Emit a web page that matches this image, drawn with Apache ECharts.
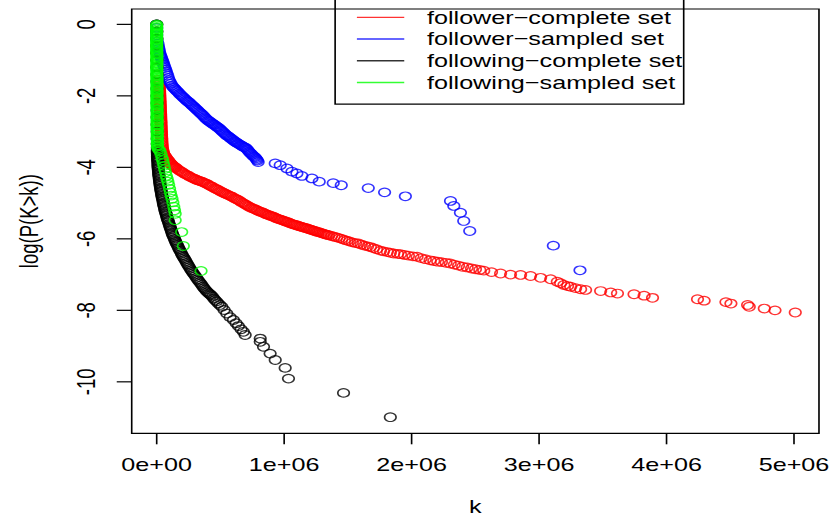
<!DOCTYPE html>
<html>
<head>
<meta charset="utf-8">
<script src="https://cdn.jsdelivr.net/npm/echarts@6/dist/echarts.min.js"></script>
<style>
  html, body { margin: 0; padding: 0; background: #fff; }
  #wrap { width: 830px; height: 520px; overflow: hidden; position: relative; }
  /* the plot is laid out on a narrower canvas and widened horizontally */
  #chart { width: 610px; height: 520px; transform: scale(1.36066, 1); transform-origin: 0 0; }
</style>
</head>
<body>
<div id="wrap"><div id="chart"></div></div>
<script>
// Empirical CCDF of degree k: pairs [k, log(P(K>k))]
const followerComplete = [
  [0,0],[0,-0.2],[1000,-0.4],[2000,-0.6],[3000,-0.8],[4000,-1.0],[6000,-1.2],[9000,-1.4],[13000,-1.55],
  [15000,-1.6],[17000,-1.64],[19000,-1.68],[20000,-1.72],[21000,-1.76],[22000,-1.8],[22000,-1.84],[23000,-1.88],[23000,-1.92],[24000,-1.96],
  [24000,-2.0],[25000,-2.04],[25000,-2.08],[26000,-2.12],[26000,-2.16],[27000,-2.2],[27000,-2.24],[28000,-2.28],[28000,-2.32],[29000,-2.36],
  [29000,-2.41],[30000,-2.45],[30000,-2.49],[31000,-2.53],[31000,-2.57],[32000,-2.61],[32000,-2.66],[33000,-2.7],[33000,-2.74],[34000,-2.78],
  [34000,-2.83],[35000,-2.87],[35000,-2.91],[36000,-2.96],[36000,-3.0],[37000,-3.04],[38000,-3.09],[38000,-3.13],[39000,-3.18],[40000,-3.22],
  [40000,-3.27],[41000,-3.31],[42000,-3.36],[43000,-3.4],[44000,-3.45],
  [46000,-3.49],[48000,-3.53],[50000,-3.56],[53000,-3.6],[56000,-3.63],[60000,-3.66],[64000,-3.68],[68000,-3.7],[72000,-3.72],[76000,-3.74],
  [81000,-3.77],[86000,-3.79],[91000,-3.81],[96000,-3.83],[101000,-3.86],[106000,-3.88],[111000,-3.9],[117000,-3.92],[123000,-3.94],[129000,-3.96],
  [135000,-3.98],[141000,-3.99],[147000,-4.01],[153000,-4.02],[164000,-4.05],[175000,-4.08],[187000,-4.11],[198000,-4.13],[210000,-4.16],[223000,-4.19],
  [235000,-4.21],[247000,-4.23],[259000,-4.26],[271000,-4.28],[283000,-4.30],[295000,-4.32],[307000,-4.34],[319000,-4.36],[331000,-4.37],[343000,-4.39],
  [355000,-4.40],[367000,-4.42],[379000,-4.44],[391000,-4.46],[403000,-4.48],[415000,-4.51],[427000,-4.53],[439000,-4.55],[451000,-4.58],[463000,-4.60],
  [475000,-4.62],[487000,-4.64],[499000,-4.67],[511000,-4.69],[523000,-4.71],[535000,-4.73],[547000,-4.75],[559000,-4.77],[571000,-4.79],[583000,-4.81],
  [595000,-4.83],[607000,-4.86],[619000,-4.88],[631000,-4.90],[643000,-4.92],[655000,-4.95],[667000,-4.98],[679000,-5.00],[691000,-5.03],[703000,-5.05],
  [715000,-5.08],[727000,-5.10],[739000,-5.13],[751000,-5.14],[763000,-5.16],[775000,-5.18],[787000,-5.20],[799000,-5.22],[811000,-5.24],[823000,-5.25],
  [835000,-5.27],[847000,-5.29],[859000,-5.31],[871000,-5.33],[883000,-5.34],[895000,-5.36],[907000,-5.37],[919000,-5.39],[931000,-5.41],[943000,-5.43],
  [955000,-5.44],[967000,-5.46],[979000,-5.47],[991000,-5.49],[1003000,-5.50],[1015000,-5.52],[1027000,-5.53],[1039000,-5.55],[1051000,-5.57],[1063000,-5.58],
  [1075000,-5.60],[1087000,-5.61],[1099000,-5.62],[1111000,-5.64],[1123000,-5.65],[1135000,-5.66],[1147000,-5.68],[1159000,-5.69],[1171000,-5.70],[1183000,-5.71],
  [1195000,-5.73],[1207000,-5.74],[1219000,-5.76],[1231000,-5.77],[1243000,-5.78],[1255000,-5.80],[1267000,-5.81],[1279000,-5.82],[1291000,-5.84],[1303000,-5.85],
  [1315000,-5.86],[1327000,-5.88],[1339000,-5.89],[1351000,-5.90],[1372000,-5.92],[1392000,-5.94],[1412000,-5.96],[1432000,-5.98],[1452000,-6.00],[1472000,-6.03],
  [1492000,-6.05],[1512000,-6.07],[1535000,-6.10],[1560000,-6.12],[1583000,-6.13],[1605000,-6.16],[1630000,-6.19],[1655000,-6.21],[1677000,-6.23],[1700000,-6.26],
  [1725000,-6.29],[1756000,-6.33],[1780000,-6.35],[1810000,-6.37],[1834000,-6.39],[1860000,-6.41],[1890000,-6.42],[1913000,-6.43],[1944000,-6.45],[1975000,-6.47],
  [2010000,-6.49],[2043000,-6.50],[2075000,-6.54],[2108000,-6.57],[2145000,-6.60],[2174000,-6.62],[2205000,-6.64],[2234000,-6.65],[2270000,-6.67],[2303000,-6.69],
  [2335000,-6.72],[2368000,-6.75],[2400000,-6.78],[2436000,-6.80],[2470000,-6.83],[2501000,-6.85],[2535000,-6.87],[2566000,-6.89],[2627000,-6.93],[2698000,-6.97],
  [2776000,-7.00],[2855000,-7.01],[2933000,-7.04],[3012000,-7.09],[3091000,-7.13],[3143000,-7.20],[3169000,-7.24],[3195000,-7.29],[3224000,-7.32],[3248000,-7.34],
  [3287000,-7.38],[3326000,-7.41],[3365000,-7.43],[3483000,-7.46],[3562000,-7.50],[3615000,-7.53],[3745000,-7.55],[3824000,-7.59],[3890000,-7.65],[4243000,-7.69],
  [4295000,-7.73],[4466000,-7.77],[4505000,-7.81],[4636000,-7.85],[4649000,-7.90],[4767000,-7.95],[4851000,-8.00],[5010000,-8.06]
];

const followerSampled = [
  [0,0],[0,-0.1],[0,-0.2],[0,-0.3],[1000,-0.4],[4000,-0.48],
  [10000,-0.54],[14000,-0.62],[17000,-0.68],[20000,-0.74],[23000,-0.79],[27000,-0.84],[31000,-0.88],[35000,-0.92],[39000,-0.96],[43000,-1.0],
  [47000,-1.04],[51000,-1.08],[55000,-1.12],[60000,-1.17],[65000,-1.22],[70000,-1.27],[75000,-1.32],[80000,-1.37],[86000,-1.43],[92000,-1.5],
  [98000,-1.56],[105000,-1.61],[112000,-1.66],[120000,-1.71],[128000,-1.75],[136000,-1.78],[144000,-1.81],[152000,-1.84],[160000,-1.87],[169000,-1.9],
  [178000,-1.94],[187000,-1.97],[196000,-2.0],[205000,-2.03],[214000,-2.06],[223000,-2.09],[232000,-2.12],[241000,-2.15],[250000,-2.17],[259000,-2.2],
  [268000,-2.23],[277000,-2.26],[286000,-2.29],[295000,-2.32],[304000,-2.35],[313000,-2.38],[322000,-2.41],[331000,-2.44],[340000,-2.47],[349000,-2.50],
  [358000,-2.53],[367000,-2.56],[376000,-2.60],[385000,-2.63],[394000,-2.66],[403000,-2.69],[412000,-2.71],[421000,-2.73],[430000,-2.76],[439000,-2.78],
  [448000,-2.80],[457000,-2.82],[466000,-2.85],[475000,-2.87],[484000,-2.89],[493000,-2.92],[502000,-2.95],[511000,-2.98],[520000,-3.01],[529000,-3.04],
  [538000,-3.07],[547000,-3.10],[556000,-3.12],[565000,-3.14],[574000,-3.17],[583000,-3.19],[592000,-3.22],[601000,-3.24],[610000,-3.27],[619000,-3.29],
  [628000,-3.31],[637000,-3.33],[646000,-3.35],[655000,-3.37],[664000,-3.39],[673000,-3.41],[682000,-3.43],[691000,-3.44],[700000,-3.46],[708000,-3.49],
  [716000,-3.52],[724000,-3.56],[732000,-3.59],[741000,-3.62],[749000,-3.65],[757000,-3.68],[765000,-3.70],[772000,-3.72],[778000,-3.75],[784000,-3.78],
  [790000,-3.81],[796000,-3.85],
  [930000,-3.89],[969000,-3.94],[1022000,-4.03],[1061000,-4.12],[1100000,-4.17],[1139000,-4.24],[1218000,-4.31],[1275000,-4.40],[1385000,-4.44],[1448000,-4.50],
  [1660000,-4.58],[1788000,-4.70],[1951000,-4.81],[2305000,-4.94],[2331000,-5.08],[2383000,-5.27],[2409000,-5.50],[2456000,-5.78],[3112000,-6.19],[3321000,-6.88]
];

const followingComplete = [
  [0,0],[0,-0.2],[0,-0.4],[1000,-0.6],[1000,-0.8],[1000,-1.0],[1000,-1.2],[2000,-1.4],[2000,-1.6],[2000,-1.8],
  [2000,-2.0],[3000,-2.2],[3000,-2.4],[3000,-2.6],[3000,-2.8],[4000,-3.0],[4000,-3.2],[4000,-3.35],[5000,-3.45],
  [5000,-3.52],[5000,-3.56],[5500,-3.6],[6000,-3.64],[6000,-3.69],[6500,-3.73],[7000,-3.77],[8000,-3.81],[9000,-3.85],[9500,-3.9],
  [10000,-3.94],[11000,-3.98],[12000,-4.02],[13000,-4.06],[14000,-4.1],[15000,-4.15],[16000,-4.19],[17500,-4.23],[19000,-4.27],[20500,-4.32],
  [22000,-4.36],[23500,-4.4],[25000,-4.44],[26500,-4.48],[28000,-4.52],[30000,-4.57],[32000,-4.61],[34000,-4.65],[36000,-4.69],[38000,-4.74],
  [40000,-4.78],[42500,-4.82],[45000,-4.86],[47500,-4.9],[50000,-4.94],[52000,-4.99],[54000,-5.03],[57000,-5.07],[60000,-5.11],[62500,-5.16],
  [65000,-5.2],[68500,-5.24],[72000,-5.28],[75000,-5.32],[78000,-5.36],[81500,-5.41],[85000,-5.45],[89000,-5.49],[93000,-5.53],[97000,-5.58],
  [101000,-5.62],[104500,-5.66],[108000,-5.7],[112000,-5.74],[116000,-5.78],[120000,-5.83],[124000,-5.87],[129000,-5.91],[134000,-5.95],[139000,-6.0],
  [144000,-6.04],[149000,-6.08],[154000,-6.12],[159500,-6.16],[165000,-6.2],[171000,-6.25],[177000,-6.29],[183000,-6.33],[189000,-6.37],[195000,-6.42],
  [201000,-6.46],[208000,-6.5],[215000,-6.54],[221500,-6.58],[228000,-6.62],[235000,-6.67],[242000,-6.71],[249000,-6.75],[256000,-6.79],[263500,-6.84],
  [271000,-6.88],[279000,-6.92],[287000,-6.96],[295000,-7.0],[303000,-7.04],[311500,-7.09],[320000,-7.13],[328500,-7.17],[337000,-7.21],[345500,-7.25],
  [354000,-7.29],[363000,-7.34],[372000,-7.38],[381000,-7.42],[390000,-7.46],[399000,-7.49],[408000,-7.52],[418000,-7.55],
  [427000,-7.58],[438000,-7.62],[448000,-7.67],[458000,-7.71],[470000,-7.75],[482000,-7.80],[496000,-7.85],[511000,-7.90],[529000,-7.99],[550000,-8.09],
  [576000,-8.19],[602000,-8.27],[623000,-8.36],[641000,-8.44],[662000,-8.53],[680000,-8.60],[694000,-8.69],[812000,-8.79],[812000,-8.88],[838000,-9.02],
  [890000,-9.21],[930000,-9.39],[1008000,-9.61],[1034000,-9.91],[1466000,-10.31],[1833000,-10.99]
];

const followingSampled = [
  [0,0],[0,-0.03],[0,-0.07],[0,-0.1],[0,-0.14],[0,-0.18],[0,-0.21],[0,-0.25],[0,-0.29],[0,-0.33],
  [0,-0.37],[0,-0.41],[0,-0.44],[0,-0.48],[0,-0.52],[0,-0.56],[0,-0.6],[0,-0.64],[0,-0.68],[0,-0.72],
  [0,-0.76],[1000,-0.8],[1000,-0.84],[1000,-0.88],[1000,-0.92],[1000,-0.96],[1000,-1.0],[1000,-1.04],[1000,-1.08],[1000,-1.12],
  [1000,-1.16],[1000,-1.2],[1000,-1.24],[1000,-1.28],[1000,-1.32],[1000,-1.37],[1000,-1.41],[1000,-1.45],[2000,-1.49],[2000,-1.53],
  [2000,-1.57],[2000,-1.61],[2000,-1.65],[2000,-1.69],[2000,-1.74],[2000,-1.78],[2000,-1.82],[2000,-1.86],[2000,-1.9],[2000,-1.94],
  [2000,-1.99],[2000,-2.03],[2000,-2.07],[2000,-2.11],[2000,-2.15],[2000,-2.2],[2000,-2.24],[2000,-2.28],[2000,-2.32],[3000,-2.37],
  [3000,-2.41],[3000,-2.45],[3000,-2.49],[3000,-2.54],[3000,-2.58],[3000,-2.62],[3000,-2.67],[3000,-2.71],[3000,-2.75],[3000,-2.8],
  [3000,-2.84],[3000,-2.89],[3000,-2.93],[4000,-2.97],[4000,-3.02],[4000,-3.06],[4000,-3.11],[4000,-3.15],[4000,-3.2],[5000,-3.24],
  [5000,-3.29],[5000,-3.33],[6000,-3.38],[6000,-3.42],
  [10000,-3.47],[18000,-3.5],[26000,-3.55],[34000,-3.63],[42000,-3.74],[47000,-3.8],[52000,-3.88],[57000,-3.96],[63000,-4.05],[69000,-4.14],
  [76000,-4.24],[82000,-4.32],[88000,-4.4],[94000,-4.49],[101000,-4.6],[107000,-4.7],[113000,-4.79],[120000,-4.88],[127000,-4.98],[134000,-5.1],
  [140000,-5.2],[145000,-5.3],[145000,-5.48],[196000,-5.81],[209000,-6.20],[348000,-6.90]
];

const seriesNames = ['follower\u2212complete set', 'follower\u2212sampled set', 'following\u2212complete set', 'following\u2212sampled set'];
const seriesColors = ['#ff0000', '#0000ff', '#000000', '#00ff00'];

// Axis annotation
const xTickValues = [0, 1000000, 2000000, 3000000, 4000000, 5000000];
const xTickLabels = ['0e+00', '1e+06', '2e+06', '3e+06', '4e+06', '5e+06'];
const yTickValues = [0, -2, -4, -6, -8, -10];
const yTickLabels = ['0', '-2', '-4', '-6', '-8', '-10'];
const xTickStep = 1000000;
const yTickStep = 2;

const FONT = "'Liberation Sans', Arial, Helvetica, sans-serif";
const FS = 18.5;
const TICK = 11;

// Plot region (pre-stretch pixels) and its data extent
const W = 610, H = 520;
const box = { left: 96.8, right: 8.1, top: 9, bottom: 86.7 };
const xMin = -196000, xMax = 5196000;
const yMin = -11.44, yMax = 0.43;

// Label regions: edges sit on the first/last tick so the label axes span exactly 0..5e6 and -10..0
const plotW = W - box.left - box.right, plotH = H - box.top - box.bottom;
const xPx = v => box.left + (v - xMin) / (xMax - xMin) * plotW;
const yPx = v => box.top + (yMax - v) / (yMax - yMin) * plotH;
const xLabelGrid = { left: xPx(0), right: W - xPx(5000000), top: box.top, bottom: box.bottom, show: false, containLabel: false, outerBoundsMode: 'none' };
const yLabelGrid = { left: box.left, right: box.right, top: yPx(0), bottom: H - yPx(-10), show: false, containLabel: false, outerBoundsMode: 'none' };

const chart = echarts.init(document.getElementById('chart'), null, { renderer: 'svg' });

const seriesData = [followerComplete, followerSampled, followingComplete, followingSampled];
const tickStyle = { stroke: '#000', lineWidth: 1.2 };
const hidden = { show: false };
const companionAxis = (gridIndex) => ({
  gridIndex, type: 'value', min: 0, max: 1,
  axisLine: hidden, axisTick: hidden, axisLabel: hidden, splitLine: hidden
});

// Outward tick marks on the frame, positioned through the data axes
const xTickSeries = {
  type: 'custom', xAxisIndex: 0, yAxisIndex: 0, silent: true, clip: false, z: 5,
  data: xTickValues.map(v => [v, yMin]),
  renderItem: (params, api) => {
    const p = api.coord([api.value(0), api.value(1)]);
    return { type: 'line', shape: { x1: p[0], y1: p[1], x2: p[0], y2: p[1] + TICK }, style: tickStyle };
  }
};
const yTickSeries = {
  type: 'custom', xAxisIndex: 0, yAxisIndex: 0, silent: true, clip: false, z: 5,
  data: yTickValues.map(v => [xMin, v]),
  renderItem: (params, api) => {
    const p = api.coord([api.value(0), api.value(1)]);
    return { type: 'line', shape: { x1: p[0], y1: p[1], x2: p[0] - TICK, y2: p[1] }, style: tickStyle };
  }
};

chart.setOption({
  animation: false,
  backgroundColor: '#fff',
  textStyle: { fontFamily: FONT },
  grid: [
    Object.assign({ show: true, borderColor: '#000', borderWidth: 1.2, backgroundColor: 'transparent', containLabel: false, outerBoundsMode: 'none' }, box),
    xLabelGrid,
    yLabelGrid
  ],
  legend: {
    orient: 'vertical', left: 246.3, top: -3,
    padding: [9.5, 1, 10.8, 16], itemGap: 0, itemWidth: 34.8, itemHeight: 1.4,
    borderColor: '#000', borderWidth: 1.2, backgroundColor: 'transparent',
    selectedMode: false,
    textStyle: { fontFamily: FONT, fontSize: FS, color: '#000', lineHeight: 21.7, padding: [0, 0, 0, 11.7] },
    data: seriesNames.map((n, i) => ({ name: n, icon: 'rect', itemStyle: { color: seriesColors[i], borderWidth: 0 } }))
  },
  xAxis: [
    {
      gridIndex: 0, type: 'value', min: xMin, max: xMax,
      axisLine: hidden, axisTick: hidden, axisLabel: hidden, splitLine: hidden,
      name: 'k', nameLocation: 'middle', nameGap: 64,
      nameTextStyle: { fontSize: FS, color: '#000', fontFamily: FONT }
    },
    {
      gridIndex: 1, type: 'value', min: 0, max: 5000000, interval: xTickStep, position: 'bottom',
      axisLine: hidden, axisTick: hidden, splitLine: hidden,
      axisLabel: {
        margin: 22, fontSize: FS, color: '#000', fontFamily: FONT, showMinLabel: true, showMaxLabel: true,
        formatter: v => xTickLabels[Math.round(v / xTickStep)]
      }
    },
    companionAxis(2)
  ],
  yAxis: [
    {
      gridIndex: 0, type: 'value', min: yMin, max: yMax,
      axisLine: hidden, axisTick: hidden, axisLabel: hidden, splitLine: hidden,
      name: 'log(P(K>k))', nameLocation: 'middle', nameGap: 66,
      nameTextStyle: { fontSize: FS, color: '#000', fontFamily: FONT }
    },
    companionAxis(1),
    {
      gridIndex: 2, type: 'value', min: -10, max: 0, interval: yTickStep, position: 'left',
      axisLine: hidden, axisTick: hidden, splitLine: hidden,
      axisLabel: {
        margin: 24, rotate: 90, fontSize: FS, color: '#000', fontFamily: FONT, showMinLabel: true, showMaxLabel: true,
        formatter: v => yTickLabels[Math.round(-v / yTickStep)]
      }
    }
  ],
  series: seriesData.map((d, i) => ({
    name: seriesNames[i],
    type: 'scatter',
    xAxisIndex: 0, yAxisIndex: 0,
    data: d,
    symbol: 'circle',
    symbolSize: 8.5,
    silent: true,
    large: false,
    progressive: 0,
    itemStyle: { color: 'rgba(0,0,0,0)', borderColor: seriesColors[i], borderWidth: 1.2 }
  })).concat([xTickSeries, yTickSeries])
});
</script>
</body>
</html>
